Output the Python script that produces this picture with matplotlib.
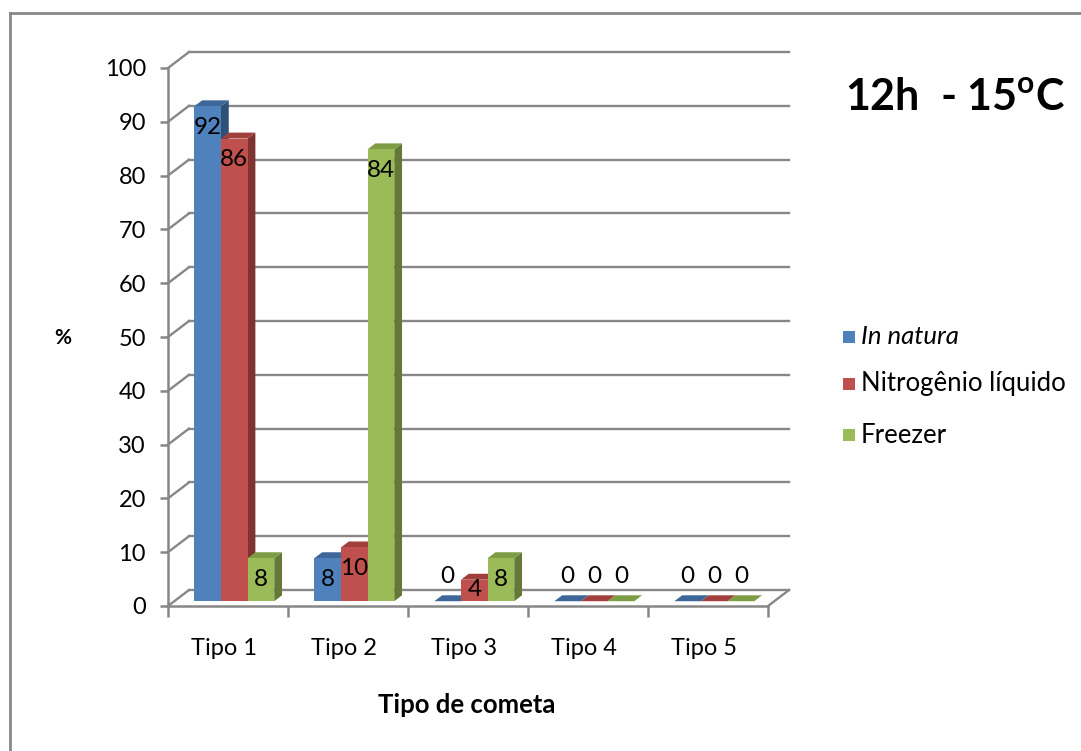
import matplotlib
matplotlib.use("Agg")
import matplotlib.pyplot as plt
from matplotlib.patches import Polygon, Rectangle
from matplotlib.lines import Line2D

plt.rcParams['font.family'] = ['Lato', 'DejaVu Sans']
plt.rcParams['mathtext.fontset'] = 'custom'
plt.rcParams['mathtext.rm'] = 'Lato'
plt.rcParams['mathtext.bf'] = 'Lato:bold'

# dados
categorias = ['Tipo 1', 'Tipo 2', 'Tipo 3', 'Tipo 4', 'Tipo 5']
in_natura = [92, 8, 0, 0, 0]
nitrogenio = [86, 10, 4, 0, 0]
freezer = [8, 84, 8, 0, 0]
series = ['In natura', 'Nitrogênio líquido', 'Freezer']
y_ticks = [0, 10, 20, 30, 40, 50, 60, 70, 80, 90, 100]

# cores: frente, lado, topo
cores = [('#4F81BD', '#2F5178', '#3D6799'),
         ('#C0504D', '#7E3331', '#A03F3C'),
         ('#9BBB59', '#637A36', '#7E9C44')]
cinza = '#878787'

W, H = 1081, 751
fig = plt.figure(figsize=(W / 100, H / 100), dpi=100)
ax = fig.add_axes([168 / W, (H - 606) / H, 600 / W, 538 / H])
ax.set_xlim(0, 5)
ax.set_ylim(0, 100)

# deslocamento da parede do fundo (perspectiva)
DX, DY = 0.175, 2.97
d0, d1 = 0.30, 0.67
larg = 0.222
g0 = (1 - 3 * larg) / 2

# parede do fundo e chão
for v in y_ticks:
    ax.plot([DX, 5 + DX], [v + DY, v + DY], color=cinza, lw=1.7, clip_on=False, zorder=1)
    ax.plot([0, DX], [v, v + DY], color=cinza, lw=1.7, clip_on=False, zorder=1)
ax.plot([5, 5 + DX], [0, DY], color=cinza, lw=1.7, clip_on=False, zorder=1)


def barra(x0, v, cor):
    x1 = x0 + larg
    s0, s1 = d0 * DX, d1 * DX
    y0, y1 = d0 * DY, d1 * DY
    frente, lado, topo = cor
    ax.add_patch(Polygon([(x1 + s0, y0), (x1 + s0, v + y0), (x1 + s1, v + y1), (x1 + s1, y1)],
                         closed=True, fc=lado, ec='none', zorder=3, clip_on=False))
    ax.add_patch(Polygon([(x0 + s0, v + y0), (x1 + s0, v + y0), (x1 + s1, v + y1), (x0 + s1, v + y1)],
                         closed=True, fc=topo, ec='none', zorder=3, clip_on=False))
    ax.add_patch(Rectangle((x0 + s0, y0), larg, v, fc=frente, ec='none', zorder=3, clip_on=False))


dados = [in_natura, nitrogenio, freezer]
for i in range(len(categorias)):
    for j in range(3):
        v = dados[j][i]
        x0 = i + g0 + j * larg
        barra(x0, v, cores[j])
        if v == 0:
            yl = 5.5
        elif v < 8:
            yl = v - 1
        else:
            yl = v - 3
        ax.text(x0 + d0 * DX + larg / 2, yl, str(v), ha='center', va='center',
                fontsize=17.5, color='black', zorder=5)

# eixos
for s in ['top', 'right']:
    ax.spines[s].set_visible(False)
for s in ['left', 'bottom']:
    ax.spines[s].set_color(cinza)
    ax.spines[s].set_linewidth(1.8)
ax.patch.set_visible(False)
ax.set_yticks(y_ticks)
ax.set_yticklabels([str(t) for t in y_ticks], fontsize=17)
ax.tick_params(axis='y', length=6, width=1.8, color=cinza, pad=10)
ax.set_xticks(range(6))
ax.set_xticklabels([''] * 6)
ax.set_xticks([i + 0.47 for i in range(5)], minor=True)
ax.set_xticklabels(categorias, minor=True, fontsize=17)
ax.tick_params(axis='x', which='major', length=8, width=1.8, color=cinza)
ax.tick_params(axis='x', which='minor', length=0, pad=23)

fig.text(63 / W, 1 - 338 / H, '%', ha='center', va='center', fontsize=15, fontweight='bold')
fig.text(467 / W, 1 - 705 / H, 'Tipo de cometa', ha='center', va='center',
         fontsize=18.5, fontweight='bold')
fig.text(845 / W, 1 - 97 / H, r'12h  - 15$^{\mathbf{o}}$C', ha='left', va='center',
         fontsize=31, fontweight='bold')

# legenda
for k, (nome, y) in enumerate(zip(series, [337, 384, 435])):
    fig.add_artist(Rectangle((843 / W, 1 - (y + 6) / H), 12 / W, 12 / H,
                             transform=fig.transFigure, fc=cores[k][0], ec='none'))
    fig.text(861 / W, 1 - y / H, nome, ha='left', va='center', fontsize=18.5,
             style='italic' if k == 0 else 'normal')

# moldura
fig.add_artist(Line2D([10 / W, 10 / W], [0, 1 - 13 / H], transform=fig.transFigure, color=cinza, lw=2))
fig.add_artist(Line2D([10 / W, 1], [1 - 13 / H, 1 - 13 / H], transform=fig.transFigure, color=cinza, lw=2))

fig.savefig('out.png', dpi=100)
